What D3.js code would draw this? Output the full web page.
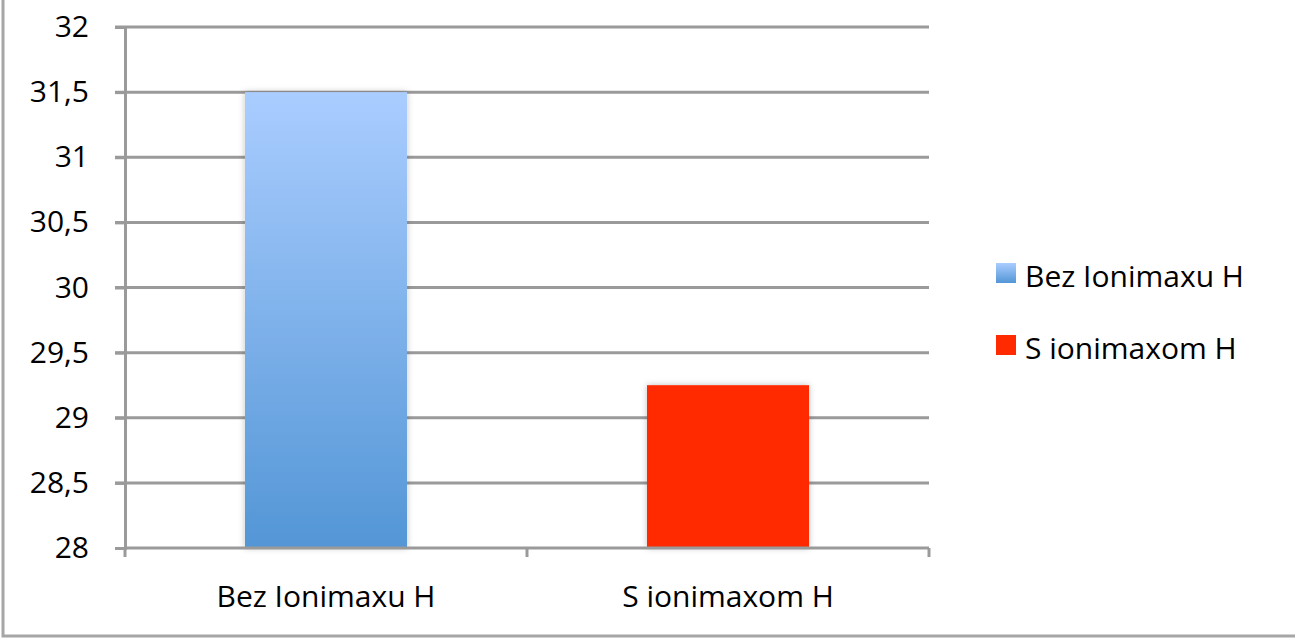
<!DOCTYPE html>
<html><head><meta charset="utf-8">
<script src="https://cdn.jsdelivr.net/npm/d3@7"></script>
<style>
html,body{margin:0;padding:0;background:#fff;}
text{font-family:"Open Sans",sans-serif;fill:#000;}
</style></head>
<body>
<svg id="chart" width="1295" height="639"></svg>
<script>
const categories = ["Bez Ionimaxu H", "S ionimaxom H"];
const values = [31.5, 29.25];
const seriesNames = ["Bez Ionimaxu H", "S ionimaxom H"];
const yTicks = [28, 28.5, 29, 29.5, 30, 30.5, 31, 31.5, 32];

(function () {
const svg = d3.select("#chart");
const W = 1295, H = 639;
const mLeft = 125, mRight = 929, mTop = 27, mBottom = 548;
const fontSize = 30;

// frame
svg.append("rect").attr("x", 3).attr("y", -5).attr("width", W + 10).attr("height", H + 2)
  .attr("fill", "none").attr("stroke", "#a6a6a6").attr("stroke-width", 3);

const defs = svg.append("defs");
const g1 = defs.append("linearGradient").attr("id", "blueGrad").attr("x1", 0).attr("y1", 0).attr("x2", 0).attr("y2", 1);
g1.append("stop").attr("offset", "0%").attr("stop-color", "#aacdff");
g1.append("stop").attr("offset", "100%").attr("stop-color", "#5396d6");
const f = defs.append("filter").attr("id", "shadow").attr("x", "-10%").attr("y", "-10%").attr("width", "120%").attr("height", "120%");
f.append("feDropShadow").attr("dx", 0).attr("dy", 0).attr("stdDeviation", 3).attr("flood-color", "#000").attr("flood-opacity", 0.25);

const x = d3.scaleBand().domain(categories).range([mLeft, mRight]).paddingInner(0).paddingOuter(0);
const y = d3.scaleLinear().domain([28, 32]).range([mBottom, mTop]);

// gridlines
svg.append("g").selectAll("line").data(yTicks.slice(1)).join("line")
  .attr("x1", mLeft - 10).attr("x2", mRight).attr("y1", d => y(d)).attr("y2", d => y(d))
  .attr("stroke", "#9a9a9a").attr("stroke-width", 3);

// y axis
const yAxis = d3.axisLeft(y).tickValues(yTicks).tickSize(10).tickPadding(26)
  .tickFormat(d => String(d).replace(".", ","));
const ya = svg.append("g").attr("transform", `translate(${mLeft},0)`).call(yAxis);
ya.select(".domain").attr("stroke", "#9a9a9a").attr("stroke-width", 3);
ya.selectAll(".tick line").attr("stroke", "#9a9a9a").attr("stroke-width", 3);
ya.selectAll(".tick text").style("font-size", fontSize + "px").style("font-family", "Open Sans").attr("fill", "#000");

// bars
const barW = x.bandwidth() * 0.403;
const colors = ["url(#blueGrad)", "#ff2a00"];
svg.append("g").selectAll("rect").data(values).join("rect")
  .attr("x", (d, i) => x(categories[i]) + x.bandwidth() / 2 - barW / 2)
  .attr("width", barW)
  .attr("y", d => y(d))
  .attr("height", d => y(28) - y(d))
  .attr("fill", (d, i) => colors[i])
  .attr("filter", "url(#shadow)");

// x axis
const xAxis = d3.axisBottom(x).tickSize(0).tickPadding(38);
const xa = svg.append("g").attr("transform", `translate(0,${mBottom})`).call(xAxis);
xa.select(".domain").remove();
xa.selectAll(".tick text").style("font-size", fontSize + "px").style("font-family", "Open Sans").attr("fill", "#000");
svg.append("line").attr("x1", mLeft).attr("x2", mRight).attr("y1", mBottom).attr("y2", mBottom)
  .attr("stroke", "#9a9a9a").attr("stroke-width", 3);
const bounds = [mLeft, ...categories.map(c => x(c) + x.bandwidth())];
svg.append("g").selectAll("line").data(bounds).join("line")
  .attr("x1", d => d).attr("x2", d => d).attr("y1", mBottom).attr("y2", mBottom + 9)
  .attr("stroke", "#9a9a9a").attr("stroke-width", 3);

// legend
const legend = svg.append("g").attr("transform", "translate(996,273)");
const li = legend.selectAll("g").data(seriesNames).join("g").attr("transform", (d, i) => `translate(0,${i * 72})`);
li.append("rect").attr("x", 0).attr("y", -10).attr("width", 20).attr("height", 20)
  .attr("fill", (d, i) => colors[i]);
li.append("text").attr("x", 29).attr("y", 3).attr("dy", "0.35em")
  .style("font-size", fontSize + "px").text(d => d);
})();
</script>
</body></html>
